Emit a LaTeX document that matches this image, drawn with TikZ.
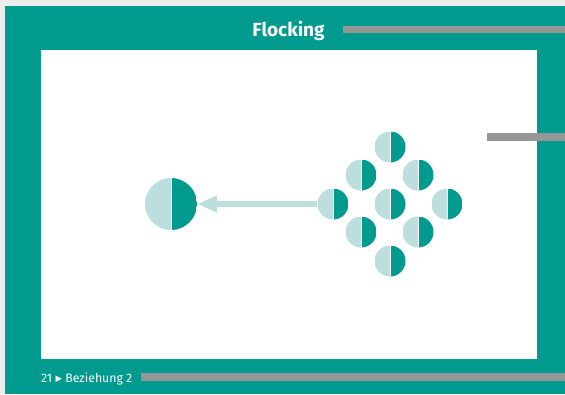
\documentclass[tikz,border=0pt]{standalone}
\usepackage{fontspec}
\setmainfont{Fira Sans}
\newfontfamily\symfont{DejaVu Sans}
\usetikzlibrary{arrows.meta}
\definecolor{tealc}{HTML}{009A8F}
\definecolor{lightc}{HTML}{BCDFDD}
\definecolor{grayc}{HTML}{969696}
\definecolor{bgc}{HTML}{ECECEC}
\tikzset{
  boid/.style={circle, inner sep=0pt, minimum size=#1,
    path picture={
      \fill[lightc] (path picture bounding box.north west) rectangle (path picture bounding box.south);
      \fill[tealc] (path picture bounding box.north) rectangle (path picture bounding box.south east);
      \draw[white, line width=0.5pt] (path picture bounding box.north) -- (path picture bounding box.south);
    }},
  boid/.default=31pt,
  graybar/.style={fill=grayc},
  label/.style={text=white, inner sep=0pt, anchor=base west}
}
\begin{document}
\begin{tikzpicture}[x=1pt,y=-1pt]
\useasboundingbox (0,0) rectangle (565,394);
\fill[bgc] (0,0) rectangle (565,394);
\fill[tealc] (5,6) rectangle (565,394);
\fill[white] (41,50) rectangle (537,359);
% bars
\fill[graybar] (343,26) rectangle (565,33);
\fill[graybar] (141,373) rectangle (565,381);
% title
\node[text=white, font=\bfseries\fontsize{19}{22}\selectfont, inner sep=0pt, anchor=base] (title) at (288.5,36) {Flocking};
\node[label, font=\fontsize{12.3}{14}\selectfont] (foot) at (41,382) {21 {\symfont\fontsize{8.5}{9}\selectfont\raisebox{0.6pt}{▶}} Beziehung 2};
% boids
\node[boid=52pt] (big) at (171,204) {};
\node[boid] (b1) at (390,147) {};
\node[boid] (b2) at (361,175) {};
\node[boid] (b3) at (418,175) {};
\node[boid] (b4) at (333,204) {};
\node[boid] (b5) at (390,204) {};
\node[boid] (b6) at (447,204) {};
\node[boid] (b7) at (361,232) {};
\node[boid] (b8) at (418,232) {};
\node[boid] (b9) at (390,261) {};
\draw[lightc, line width=6pt, -{Triangle[length=20pt,width=16pt]}] (b4.west) -- (big.east);
\fill[graybar] (487,133) rectangle (565,140.5);
\end{tikzpicture}
\end{document}
